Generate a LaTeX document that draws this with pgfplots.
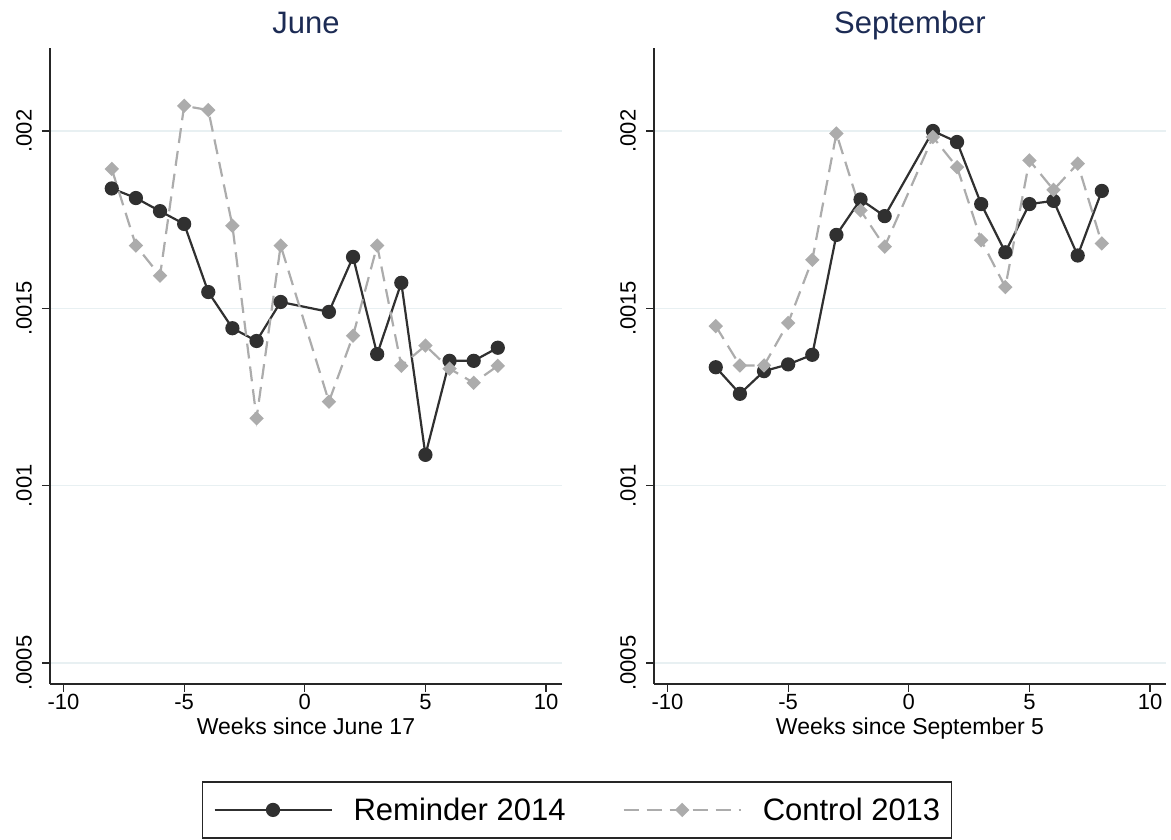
\documentclass[border=0pt]{standalone}
\usepackage{pgfplots}
\pgfplotsset{compat=1.18}
\usepackage{fontspec}
\setmainfont{Liberation Sans}
\definecolor{remc}{RGB}{48,48,48}
\definecolor{conc}{RGB}{172,172,172}
\definecolor{gridc}{RGB}{232,240,242}
\definecolor{titc}{RGB}{28,43,84}
\pgfplotsset{
  panel/.style={
    scale only axis, width=512pt, height=636pt,
    xmin=-10.56, xmax=10.66, ymin=0.000441, ymax=0.002234,
    axis x line*=bottom, axis y line*=left,
    axis line style={line width=1.2pt, black!85},
    tick align=outside, major tick length=8pt,
    tick style={line width=1.2pt, black!85},
    xtick={-10,-5,0,5,10}, xticklabels={-10,-5,0,5,10},
    ytick={0.0005,0.001,0.0015,0.002}, yticklabels={.0005,.001,.0015,.002},
    scaled ticks=false,
    ymajorgrids, major grid style={gridc, line width=1.2pt},
    tick label style={font=\fontsize{22}{26}\selectfont},
    x tick label style={anchor=north, inner sep=0pt, yshift=-2pt},
    y tick label style={rotate=90, anchor=south, inner sep=0pt},
    yticklabel shift=10pt,
    title style={font=\fontsize{31}{36}\selectfont, text=titc, at={(0.5,1)}, anchor=base, yshift=8pt, inner sep=0pt},
    xlabel style={font=\fontsize{23}{28}\selectfont, at={(axis description cs:0.5,0)}, anchor=base, yshift=-51pt, inner sep=0pt},
    clip=false,
  },
  rem/.style={remc, line width=2.2pt, mark=*, mark size=6pt, mark options={solid, fill=remc, draw=remc}},
  con/.style={conc, line width=2.2pt, dash pattern=on 15pt off 8pt, mark=square*, mark size=4pt, mark options={solid, rotate=45, fill=conc, draw=conc}},
}
\begin{document}
\begin{tikzpicture}
\useasboundingbox (0,0) rectangle (1171pt,840pt);
\begin{axis}[panel, at={(50pt,156pt)}, anchor=south west,
  title={June}, xlabel={Weeks since June 17},
  legend columns=2,
  legend image code/.code={\draw[mark repeat=2,mark phase=2,#1] plot coordinates {(0pt,0pt) (58.5pt,0pt) (117pt,0pt)};},
  legend style={at={(1.029,-0.198)}, anchor=center, draw=black!85, line width=1.2pt,
    font=\fontsize{31}{36}\selectfont, inner xsep=11pt, inner ysep=16pt,
    nodes={inner sep=0pt},
    /tikz/every odd column/.append style={column sep=21pt},
    /tikz/every even column/.append style={column sep=57pt}},
]
\addplot[rem] coordinates {
(-8,0.001838) (-7,0.001811) (-6,0.001774) (-5,0.001738) (-4,0.001546) (-3,0.001444) (-2,0.001408) (-1,0.001518)
(1,0.001490) (2,0.001645) (3,0.001371) (4,0.001572) (5,0.001087) (6,0.001352) (7,0.001352) (8,0.001389)};
\addlegendentry{Reminder 2014}
\addplot[con] coordinates {
(-8,0.001893) (-7,0.001677) (-6,0.001592) (-5,0.002071) (-4,0.002059) (-3,0.001733) (-2,0.001190) (-1,0.001677)
(1,0.001237) (2,0.001423) (3,0.001677) (4,0.001338) (5,0.001395) (6,0.001330) (7,0.001290) (8,0.001338)};
\addlegendentry{Control 2013}
\end{axis}
\begin{axis}[panel, at={(654pt,156pt)}, anchor=south west,
  title={September}, xlabel={Weeks since September 5}]
\addplot[rem] coordinates {
(-8,0.001334) (-7,0.001259) (-6,0.001323) (-5,0.001342) (-4,0.001369) (-3,0.001707) (-2,0.001807) (-1,0.001760)
(1,0.002000) (2,0.001969) (3,0.001794) (4,0.001658) (5,0.001794) (6,0.001803) (7,0.001649) (8,0.001831)};
\addplot[con] coordinates {
(-8,0.001450) (-7,0.001339) (-6,0.001339) (-5,0.001459) (-4,0.001637) (-3,0.001993) (-2,0.001776) (-1,0.001674)
(1,0.001983) (2,0.001898) (3,0.001692) (4,0.001560) (5,0.001917) (6,0.001834) (7,0.001908) (8,0.001683)};
\end{axis}
\end{tikzpicture}
\end{document}
